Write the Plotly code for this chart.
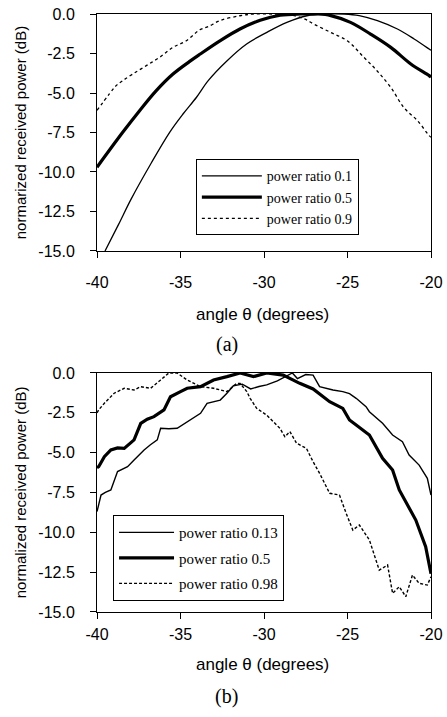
import plotly.graph_objects as go

# ---------------- data: panel (a) ----------------
a_theta_01 = [-39.52, -38.7, -37.95, -36.75, -35.65, -34.85, -34.04, -33.34, -32.24, -31.04,
              -29.83, -28.63, -27.43, -26.3, -25.2, -24.3, -23.21, -22.01, -21.01, -20.11, -20.0]
a_db_01 = [-15.0, -13.3, -11.7, -9.43, -7.49, -6.33, -5.27, -4.22, -2.99, -1.9,
           -1.16, -0.53, -0.11, 0.0, 0.0, -0.1, -0.42, -0.95, -1.58, -2.22, -2.3]

a_theta_05 = [-40.0, -38.46, -37.45, -36.45, -35.45, -34.45, -33.84, -32.64, -31.44, -30.23,
              -29.03, -27.8, -26.8, -26.0, -24.82, -23.62, -22.41, -21.21, -20.11, -20.0]
a_db_05 = [-9.7, -7.49, -6.12, -4.85, -3.8, -3.0, -2.55, -1.7, -0.95, -0.4,
           -0.08, 0.0, 0.0, -0.1, -0.53, -1.27, -2.11, -3.16, -3.9, -4.0]

a_theta_09 = [-40.0, -39.26, -38.86, -38.46, -37.86, -37.05, -36.25, -35.45, -34.65, -33.84,
              -33.34, -32.64, -31.44, -30.64, -29.5, -28.5, -27.6, -27.03, -26.02, -25.02,
              -24.02, -23.21, -22.41, -21.61, -20.81, -20.11, -20.0]
a_db_09 = [-6.1, -5.06, -4.54, -4.22, -3.8, -3.27, -2.74, -2.11, -1.69, -1.0,
           -0.8, -0.42, -0.11, 0.0, 0.0, -0.05, -0.3, -0.63, -1.16, -1.69,
           -2.74, -3.62, -4.64, -5.94, -6.75, -7.7, -7.8]

# ---------------- data: panel (b) ----------------
b_theta_013 = [-40.0, -39.76, -39.5, -39.17, -38.77, -38.4, -38.17, -37.78, -37.18, -36.8,
               -36.39, -36.19, -35.7, -35.2, -34.6, -33.8, -33.41, -32.62, -32.22, -31.83,
               -31.3, -30.8, -30.3, -29.84, -29.2, -28.65, -28.3, -28.0, -27.5, -27.06,
               -26.67, -25.87, -25.28, -24.88, -24.48, -23.89, -23.69, -22.9, -22.3, -21.71,
               -21.31, -20.71, -20.22, -20.0]
b_db_013 = [-8.7, -7.66, -7.5, -7.34, -6.19, -6.0, -5.88, -5.46, -4.83, -4.5,
            -4.2, -3.47, -3.5, -3.47, -3.05, -2.53, -1.9, -1.7, -1.27, -0.8,
            -0.7, -1.0, -0.85, -0.75, -0.5, -0.2, 0.0, -0.35, -0.1, -0.13,
            -0.86, -1.07, -1.17, -1.3, -1.59, -2.11, -2.43, -3.16, -3.89, -4.31,
            -5.15, -5.78, -6.61, -7.66]

b_theta_05 = [-40.0, -39.9, -39.56, -39.17, -38.77, -38.37, -37.78, -37.38, -36.99, -36.59,
              -35.99, -35.6, -35.0, -34.6, -33.8, -33.02, -32.22, -31.43, -30.63, -29.84,
              -28.85, -27.86, -27.06, -26.07, -25.28, -24.88, -24.48, -23.69, -22.9, -22.3,
              -21.9, -20.91, -20.32, -20.12, -20.0]
b_db_05 = [-5.95, -5.88, -5.25, -4.83, -4.7, -4.73, -4.2, -3.16, -2.9, -2.74,
           -2.32, -1.49, -1.17, -0.96, -0.86, -0.44, -0.23, 0.0, -0.23, 0.0,
           -0.13, -0.65, -1.0, -1.8, -2.22, -2.95, -3.26, -3.89, -5.36, -6.09,
           -7.34, -9.23, -10.9, -11.9, -12.6]

b_theta_098 = [-40.0, -39.9, -39.56, -38.97, -38.37, -37.78, -37.38, -36.79, -36.19, -35.7,
               -35.2, -34.6, -33.8, -33.02, -32.22, -31.63, -31.43, -31.03, -30.83, -30.44,
               -29.84, -29.05, -28.75, -28.45, -28.05, -27.46, -27.06, -26.77, -26.67, -26.07,
               -25.48, -25.08, -24.68, -24.29, -23.69, -23.1, -22.6, -22.3, -21.9, -21.51,
               -21.11, -20.71, -20.22, -20.0]
b_db_098 = [-2.5, -2.32, -1.9, -1.27, -0.96, -1.07, -0.86, -0.96, -0.44, 0.0,
            0.0, -0.44, -0.86, -0.96, -1.17, -0.65, -0.65, -1.17, -1.59, -2.22,
            -2.64, -3.47, -4.0, -3.68, -4.41, -4.73, -5.57, -6.19, -6.3, -7.55,
            -7.66, -8.81, -9.86, -9.54, -10.48, -12.37, -12.05, -13.83, -13.41, -14.04,
            -12.68, -13.2, -13.31, -12.79]

x_ticks = [-40, -35, -30, -25, -20]
x_tick_text = ["-40", "-35", "-30", "-25", "-20"]
y_ticks = [0.0, -2.5, -5.0, -7.5, -10.0, -12.5, -15.0]
y_tick_text = ["0.0", "-2.5", "-5.0", "-7.5", "-10.0", "-12.5", "-15.0"]

SANS = "Liberation Sans, Arial, sans-serif"
SERIF = "Liberation Serif, Times New Roman, serif"

fig = go.Figure()

# panel (a)
fig.add_trace(go.Scatter(x=a_theta_01, y=a_db_01, mode="lines", name="power ratio 0.1",
                         line=dict(color="black", width=1.3, shape="spline"),
                         xaxis="x", yaxis="y", legend="legend"))
fig.add_trace(go.Scatter(x=a_theta_05, y=a_db_05, mode="lines", name="power ratio 0.5",
                         line=dict(color="black", width=3.2, shape="spline"),
                         xaxis="x", yaxis="y", legend="legend"))
fig.add_trace(go.Scatter(x=a_theta_09, y=a_db_09, mode="lines", name="power ratio 0.9",
                         line=dict(color="black", width=1.3, shape="spline", dash="3px,3px"),
                         xaxis="x", yaxis="y", legend="legend"))

# panel (b)
fig.add_trace(go.Scatter(x=b_theta_013, y=b_db_013, mode="lines", name="power ratio 0.13",
                         line=dict(color="black", width=1.4),
                         xaxis="x2", yaxis="y2", legend="legend2", legendgroup="b1"))
fig.add_trace(go.Scatter(x=b_theta_05, y=b_db_05, mode="lines", name="power ratio 0.5",
                         line=dict(color="black", width=3.2),
                         xaxis="x2", yaxis="y2", legend="legend2", legendgroup="b2"))
fig.add_trace(go.Scatter(x=b_theta_098, y=b_db_098, mode="lines", name="power ratio 0.98",
                         line=dict(color="black", width=1.4, dash="3px,2px"),
                         xaxis="x2", yaxis="y2", legend="legend2", legendgroup="b3"))

axis_common = dict(showgrid=False, zeroline=False, showline=True, linecolor="black",
                   linewidth=1, mirror=True, ticks="outside", ticklen=6, tickcolor="black",
                   automargin=False,
                   tickfont=dict(family=SANS, size=16, color="black"))

fig.update_layout(
    width=447, height=717,
    margin=dict(l=97, r=16, t=14, b=105),
    paper_bgcolor="white", plot_bgcolor="white",
    showlegend=True,
    xaxis=dict(domain=[0, 1], anchor="y", range=[-40, -20], tickvals=x_ticks,
               ticktext=x_tick_text, ticklabelstandoff=11, **axis_common),
    yaxis=dict(domain=[0.6037, 1.0], anchor="x", range=[-15, 0], tickvals=y_ticks,
               ticktext=y_tick_text, ticklabelstandoff=12, **axis_common),
    xaxis2=dict(domain=[0, 1], anchor="y2", range=[-40, -20], tickvals=x_ticks,
                ticktext=x_tick_text, ticklabelstandoff=2, **axis_common),
    yaxis2=dict(domain=[0.0, 0.3997], anchor="x2", range=[-15, 0], tickvals=y_ticks,
                ticktext=y_tick_text, ticklabelstandoff=12, **axis_common),
    legend=dict(x=0.296, y=0.757, xanchor="left", yanchor="top",
                bgcolor="white", bordercolor="black", borderwidth=1,
                font=dict(family=SERIF, size=14, color="black"),
                itemwidth=60),
    legend2=dict(x=0.048, y=0.162, xanchor="left", yanchor="top",
                 bgcolor="white", bordercolor="black", borderwidth=1,
                 font=dict(family=SERIF, size=15, color="black"),
                 tracegroupgap=3, itemwidth=55),
    annotations=[
        dict(text="normarized received power (dB)", xref="paper", yref="paper",
             x=-0.228, y=0.802, textangle=-90, showarrow=False, xanchor="center",
             yanchor="middle", font=dict(family=SANS, size=15, color="black")),
        dict(text="normalized received power (dB)", xref="paper", yref="paper",
             x=-0.228, y=0.200, textangle=-90, showarrow=False, xanchor="center",
             yanchor="middle", font=dict(family=SANS, size=15, color="black")),
        dict(text="angle θ (degrees)", xref="paper", yref="paper", x=0.497, y=0.4967,
             showarrow=False, xanchor="center", yanchor="middle",
             font=dict(family=SANS, size=17, color="black")),
        dict(text="(a)", xref="paper", yref="paper", x=0.389, y=0.4465,
             showarrow=False, xanchor="center", yanchor="middle",
             font=dict(family=SERIF, size=20, color="black")),
        dict(text="angle θ (degrees)", xref="paper", yref="paper", x=0.497, y=-0.0886,
             showarrow=False, xanchor="center", yanchor="middle",
             font=dict(family=SANS, size=17, color="black")),
        dict(text="(b)", xref="paper", yref="paper", x=0.389, y=-0.142,
             showarrow=False, xanchor="center", yanchor="middle",
             font=dict(family=SERIF, size=20, color="black")),
    ],
)

fig.write_html("out.html", config={"displayModeBar": False},
               post_script="document.body.style.margin='0';document.body.style.overflow='hidden';")
